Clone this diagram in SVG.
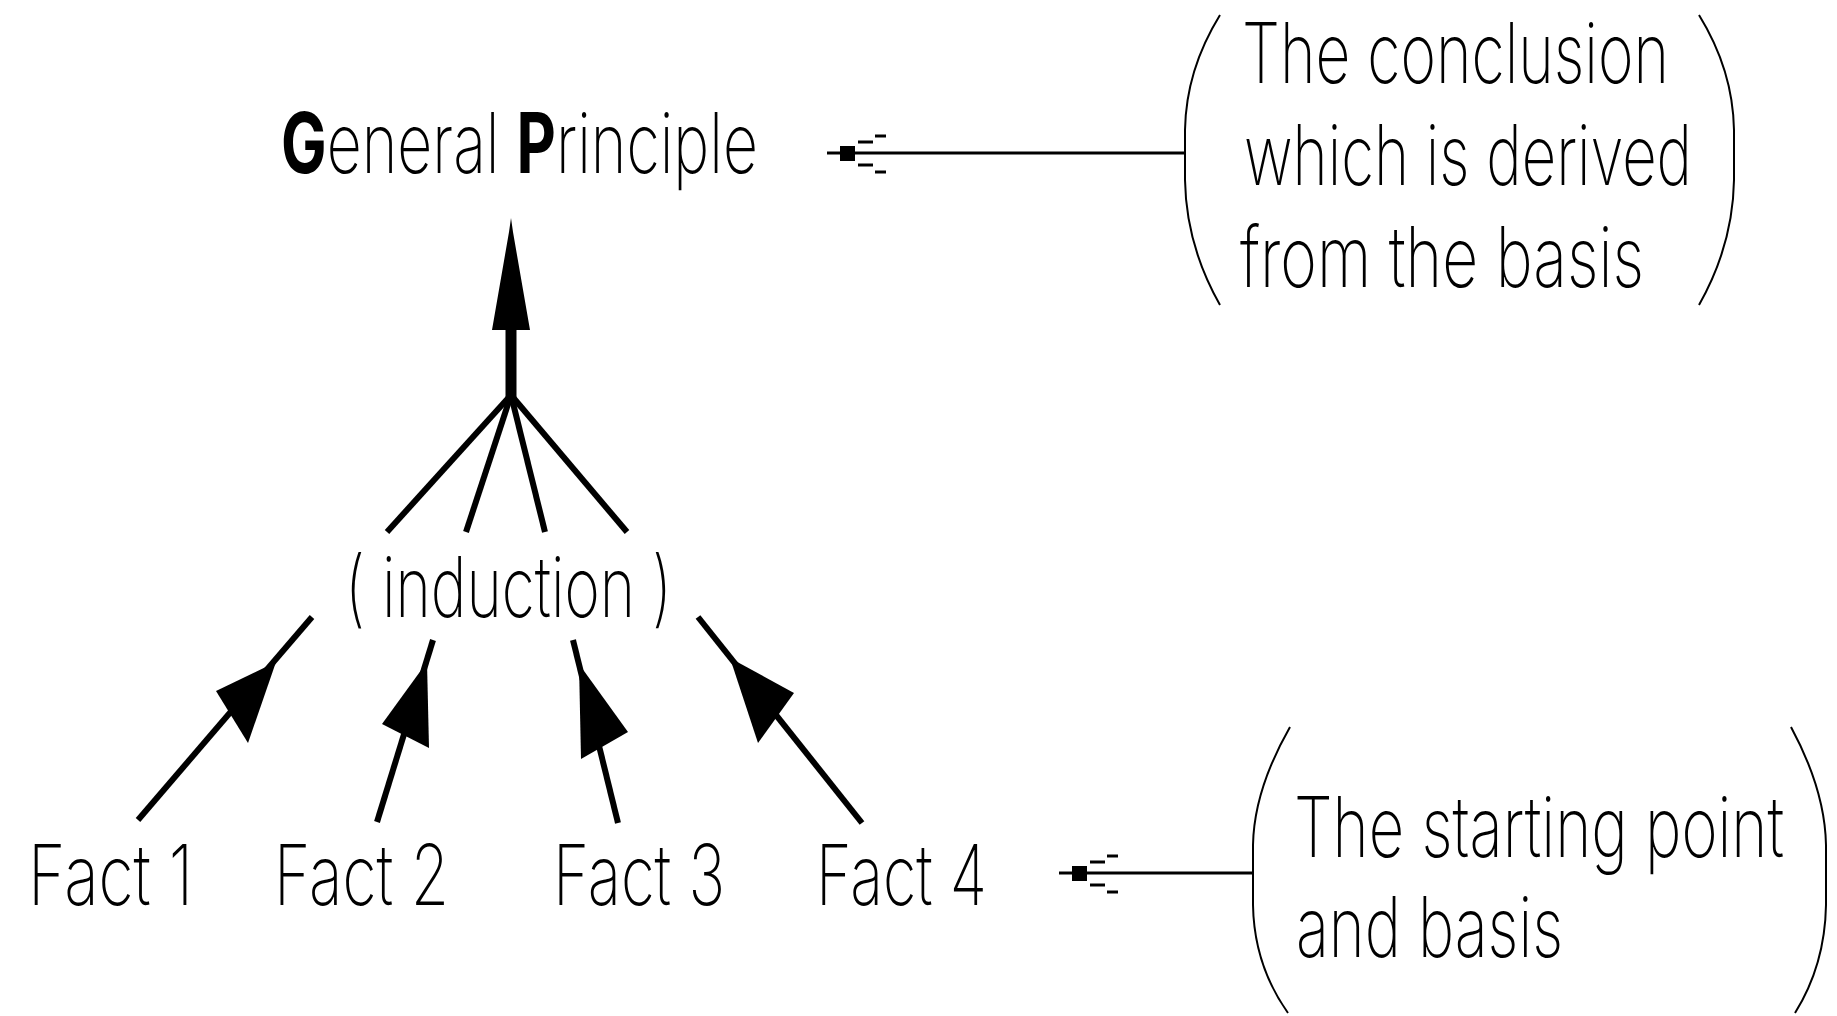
<svg xmlns="http://www.w3.org/2000/svg" xmlns:xlink="http://www.w3.org/1999/xlink" width="1837" height="1016" viewBox="0 0 1837 1016">
<style>
  .t { font-family: Inter, "Liberation Sans", Arial, sans-serif; font-size: 84px; font-weight: 200; fill: #000; }
  .b { font-weight: 700; }
  .thin { stroke: #000; stroke-width: 3; fill: none; }
  .paren { stroke: #000; stroke-width: 2; fill: none; }
  .arr { stroke: #000; stroke-width: 6; fill: none; stroke-linecap: butt; }
  .head { fill: #000; stroke: none; }
</style>
<defs>
  <g id="tail">
    <line x1="0" y1="0" x2="14" y2="0" class="thin"/>
    <rect x="13" y="-7" width="15" height="15" fill="#000"/>
    <line x1="31" y1="-11" x2="46" y2="-11" class="thin"/>
    <line x1="31" y1="12" x2="46" y2="12" class="thin"/>
    <line x1="48" y1="-17" x2="59" y2="-17" class="thin"/>
    <line x1="48" y1="19" x2="59" y2="19" class="thin"/>
  </g>
</defs>
<rect width="1837" height="1016" fill="#fff"/>

<g id="connectors">
  <!-- top arrow to General Principle -->
  <line x1="511" y1="398" x2="511" y2="326" stroke="#000" stroke-width="11"/>
  <polygon class="head" points="511,218 513,232 530,330 492,330 509,232"/>
  <line class="arr" x1="511" y1="395" x2="387" y2="532"/>
  <line class="arr" x1="511" y1="395" x2="466" y2="532"/>
  <line class="arr" x1="511" y1="395" x2="545" y2="532"/>
  <line class="arr" x1="511" y1="395" x2="627" y2="532"/>
  <!-- facts to induction -->
  <line class="arr" x1="138" y1="820" x2="312" y2="617"/>
  <polygon class="head" points="276,662 216,691 248,743"/>
  <line class="arr" x1="377" y1="822" x2="433" y2="640"/>
  <polygon class="head" points="427,662 382,724 429,748"/>
  <line class="arr" x1="618" y1="823" x2="573" y2="640"/>
  <polygon class="head" points="579,664 628,732 581,759"/>
  <line class="arr" x1="862" y1="823" x2="698" y2="617"/>
  <polygon class="head" points="730,658 794,693 758,743"/>
  <!-- note connectors -->
  <line class="thin" x1="840" y1="153" x2="1186" y2="153"/>
  <use xlink:href="#tail" href="#tail" transform="translate(827,153)"/>
  <line class="thin" x1="1072" y1="873" x2="1254" y2="873"/>
  <use xlink:href="#tail" href="#tail" transform="translate(1059,873)"/>
</g>

<g id="general-principle">
  <text class="t" x="281" y="173" textLength="477" lengthAdjust="spacingAndGlyphs"><tspan class="b">G</tspan>eneral <tspan class="b">P</tspan>rinciple</text>
</g>

<g id="induction">
  <text class="t" x="345" y="617" textLength="327" lengthAdjust="spacingAndGlyphs">( induction )</text>
</g>

<g id="fact1"><text class="t" x="28" y="905" textLength="165" lengthAdjust="spacingAndGlyphs">Fact 1</text></g>
<g id="fact2"><text class="t" x="274" y="905" textLength="175" lengthAdjust="spacingAndGlyphs">Fact 2</text></g>
<g id="fact3"><text class="t" x="553" y="905" textLength="172" lengthAdjust="spacingAndGlyphs">Fact 3</text></g>
<g id="fact4"><text class="t" x="816" y="905" textLength="171" lengthAdjust="spacingAndGlyphs">Fact 4</text></g>

<g id="note-conclusion">
  <path class="paren" d="M1220,15 Q1186,70 1185,130 L1185,180 Q1186,245 1220,305"/>
  <path class="paren" d="M1699,15 Q1733,70 1734,130 L1734,180 Q1733,245 1699,305"/>
  <text class="t" x="1242" y="83" textLength="427" lengthAdjust="spacingAndGlyphs">The conclusion</text>
  <text class="t" x="1244" y="185" textLength="448" lengthAdjust="spacingAndGlyphs">which is derived</text>
  <text class="t" x="1240" y="287" textLength="404" lengthAdjust="spacingAndGlyphs">from the basis</text>
</g>

<g id="note-starting">
  <path class="paren" d="M1290,727 Q1254,790 1253,845 L1253,905 Q1254,965 1288,1013"/>
  <path class="paren" d="M1791,727 Q1825,790 1826,845 L1826,905 Q1825,965 1795,1013"/>
  <text class="t" x="1294" y="857" textLength="490" lengthAdjust="spacingAndGlyphs">The starting point</text>
  <text class="t" x="1296" y="957" textLength="267" lengthAdjust="spacingAndGlyphs">and basis</text>
</g>
</svg>
